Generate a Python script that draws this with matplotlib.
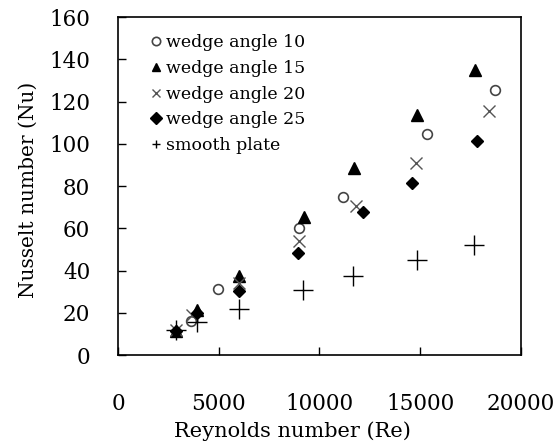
import matplotlib
matplotlib.use("Agg")
import matplotlib.pyplot as plt

plt.rcParams['font.family'] = ['DejaVu Serif']

re_10 = [3600, 4970, 8980, 11180, 15330, 18720]
nu_10 = [16.2, 31.1, 59.9, 74.9, 104.8, 125.3]

re_15 = [2870, 3930, 6000, 9250, 11730, 14830, 17700]
nu_15 = [11.3, 21.3, 37.4, 65.1, 88.3, 113.8, 134.8]

re_20 = [2900, 3650, 6000, 8980, 11800, 14800, 18430]
nu_20 = [12.0, 18.9, 34.0, 53.9, 70.5, 91.0, 115.4]

re_25 = [2870, 3930, 6000, 8950, 12180, 14580, 17810]
nu_25 = [11.3, 19.7, 30.4, 48.1, 67.8, 81.5, 101.4]

re_sm = [2870, 3930, 6000, 9200, 11680, 14830, 17650]
nu_sm = [11.8, 15.8, 21.6, 30.7, 37.4, 44.9, 52.3]

labels = ["wedge angle 10", "wedge angle 15", "wedge angle 20",
          "wedge angle 25", "smooth plate"]
x_ticks = [0, 5000, 10000, 15000, 20000]
y_ticks = [0, 20, 40, 60, 80, 100, 120, 140, 160]

fig = plt.figure(figsize=(5.55, 4.43), dpi=100)
ax = fig.add_axes([0.2126, 0.1986, 0.7261, 0.763])

ax.plot(re_10, nu_10, 'o', ms=7, mfc='white', mec='#444444', mew=1.2, ls='none', label=labels[0])
ax.plot(re_15, nu_15, '^', ms=9, color='black', ls='none', label=labels[1])
ax.plot(re_20, nu_20, 'x', ms=9, color='#555555', mew=1.0, ls='none', label=labels[2])
ax.plot(re_25, nu_25, 'D', ms=6.5, color='black', ls='none', label=labels[3])
ax.plot(re_sm, nu_sm, '+', ms=15, color='black', mew=1.0, ls='none', label=labels[4])

ax.set_xlim(0, 20000)
ax.set_ylim(0, 160)
ax.set_xticks(x_ticks)
ax.set_yticks(y_ticks)
ax.tick_params(direction='in', length=6, width=1, labelsize=15.5)
ax.tick_params(axis='y', pad=20)
ax.tick_params(axis='x', pad=27)
for s in ax.spines.values():
    s.set_linewidth(1.2)

ax.set_xlabel("Reynolds number (Re)", fontsize=15)
ax.set_ylabel("Nusselt number (Nu)", fontsize=14.5)
ax.xaxis.set_label_coords(0.434, -0.195)
ax.yaxis.set_label_coords(-0.2, 0.49)

leg = ax.legend(loc='upper left', frameon=False, fontsize=12.5, handlelength=0.6,
                handletextpad=0.3, labelspacing=0.5, borderaxespad=0.3,
                bbox_to_anchor=(0.05, 0.985))
for h in leg.legend_handles:
    h.set_markersize(6)

fig.savefig("out.png", dpi=100)
